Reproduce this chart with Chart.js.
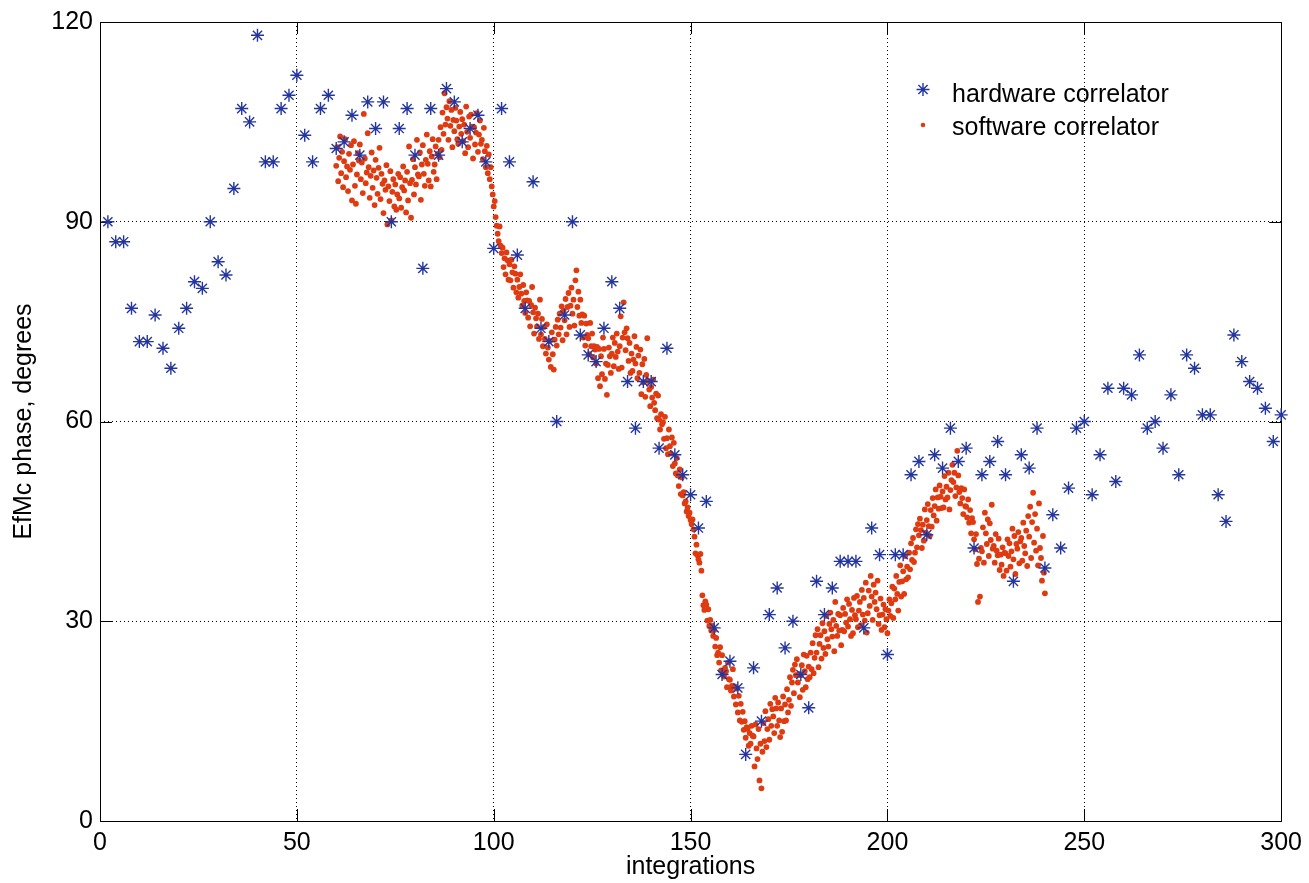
<!DOCTYPE html>
<html>
<head>
<meta charset="utf-8">
<script src="https://cdn.jsdelivr.net/npm/chart.js@4.4.1/dist/chart.umd.min.js"></script>
<style>
  html, body { margin: 0; padding: 0; background: #ffffff; }
  #wrap { width: 1309px; height: 883px; }
</style>
</head>
<body>
<div id="wrap"><canvas id="c" width="1309" height="883"></canvas></div>
<script>
// ---- data ----
const seriesNames = ['hardware correlator', 'software correlator'];
const xTicks = [0, 50, 100, 150, 200, 250, 300];
const yTicks = [0, 30, 60, 90, 120];

// hardware correlator: one sample every 2 integrations, starting at integration 2
const hwStart = 2, hwStep = 2;
const hwPhase = [
  90, 87, 87, 77, 72, 72, 76, 71, 68, 74,
  77, 81, 80, 90, 84, 82, 95, 107, 105, 118,
  99, 99, 107, 109, 112, 103, 99, 107, 109, 101,
  102, 106, 100, 108, 104, 108, 90, 104, 107, 100,
  83, 107, 100, 110, 108, 102, 104, 106, 99, 86,
  107, 99, 85, 77, 96, 74, 72, 60, 76, 90,
  73, 70, 69, 74, 81, 77, 66, 59, 66, 66,
  56, 71, 55, 52, 49, 44, 48, 29, 22, 24,
  20, 10, 23, 15, 31, 35, 26, 30, 22, 17,
  36, 31, 35, 39, 39, 39, 29, 44, 40, 25,
  40, 40, 52, 54, 43, 55, 53, 59, 54, 56,
  41, 52, 54, 57, 52, 36, 55, 53, 59, 38,
  46, 41, 50, 59, 60, 49, 55, 65, 51, 65,
  64, 70, 59, 60, 56, 64, 52, 70, 68, 61,
  61, 49, 45, 73, 69, 66, 65, 62, 57, 61
];

// software correlator: four samples per integration, from integration 60 to 240
const swStart = 60, swStep = 0.25;
const swPhase = [
  98.4,101.2,96.1,99.6,  102.8,97.3,100.5,95.2,  99.1,102.4,96.7,98.3,  94.6,100.2,97.8,101.5,  93.2,98.6,102.1,95.4,
  92.7,97.1,100.3,99.2,  101.6,96.4,98.9,94.3,  106.2,99.5,95.8,97.4,  103.3,98.2,93.6,96.9,  100.4,95.1,97.7,92.5,
  99.3,96.6,94.2,98.1,  101.1,93.4,97.2,95.7,  91.3,96.2,94.8,98.5,  89.6,95.3,93.1,97.6,  90.2,94.5,96.4,92.3,
  95.6,91.8,94.1,97.2,  93.5,96.7,92.1,95.2,  98.3,94.7,96.2,91.4,  97.5,93.2,101.3,95.8,  90.6,96.3,99.4,94.1,
  98.2,95.6,102.3,97.1,  96.8,100.4,93.3,98.6,  101.5,97.2,95.4,99.3,  103.1,98.7,96.2,100.6,  95.3,99.8,102.4,97.5,
  98.6,101.3,96.4,100.2,  102.3,99.7,104.2,100.8,  106.4,103.2,109.3,104.6,  107.2,105.5,102.3,108.1,  104.4,106.8,101.2,105.3,
  103.6,107.1,105.2,102.4,  101.7,104.3,106.5,103.2,  105.4,102.1,104.6,100.3,  107.3,103.5,101.2,105.8,  102.6,106.1,104.3,99.5,
  104.2,101.6,103.4,106.3,  100.5,103.1,105.2,101.7,  102.3,99.4,104.1,100.6,  98.2,101.4,97.3,100.1,  96.4,98.2,95.3,94.1,
  92.3,93.1,90.7,89.4,  88.2,87.1,89.3,86.4,  85.3,86.1,83.2,84.5,  82.1,85.4,84.2,81.3,  83.6,81.2,84.3,82.4,
  80.1,83.3,82.2,79.4,  81.3,78.6,80.2,82.1,  79.2,77.4,80.5,78.1,  76.3,79.4,78.2,75.6,  78.1,74.3,77.5,80.2,
  76.4,73.2,77.1,75.5,  74.3,76.2,72.4,78.3,  73.1,75.4,71.3,74.2,  72.4,70.2,74.6,71.1,  69.3,72.1,68.2,73.4,
  70.1,67.8,72.3,74.2,  71.4,75.3,73.1,76.2,  74.1,77.3,72.2,76.6,  75.2,78.4,73.1,77.2,  79.3,74.2,77.4,80.1,
  76.2,78.3,74.4,81.2,  82.7,77.2,79.5,75.9,  78.3,74.8,76.1,72.6,  75.9,71.4,74.7,73.0,  72.5,70.1,74.8,71.3,
  73.2,69.6,71.3,70.8,  68.7,71.2,66.5,70.9,  65.3,69.8,67.1,72.6,  70.9,66.4,68.7,64.0,  68.5,71.1,69.8,67.3,
  70.2,72.6,68.3,71.8,  69.7,73.2,70.5,67.9,  71.3,75.8,68.1,72.6,  77.9,73.4,70.7,74.0,  72.5,69.1,71.8,67.3,
  70.2,67.6,69.3,72.8,  68.7,71.2,66.5,69.9,  67.3,70.8,64.1,68.6,  65.9,69.4,63.7,67.0,  72.5,66.1,64.8,62.3,
  65.2,63.6,66.3,62.8,  61.7,64.2,60.5,63.9,  60.3,58.8,61.1,59.6,  59.9,57.4,60.7,56.0,  57.5,55.1,58.8,56.3,
  55.2,57.6,53.3,56.8,  53.7,52.2,54.5,51.9,  50.3,52.8,49.1,51.6,  48.9,49.4,47.7,48.0,  46.5,47.1,45.8,46.3,
  45.2,44.6,45.3,43.8,  42.7,40.2,41.5,39.9,  39.3,38.8,40.1,37.6,  33.9,32.4,31.7,33.0,  32.5,30.1,31.8,29.3,
  30.2,28.6,29.3,27.8,  28.7,26.2,27.5,24.9,  25.3,23.8,26.1,22.6,  24.9,22.4,21.7,23.0,  22.5,20.1,23.8,21.3,
  21.2,19.6,20.3,22.8,  18.7,20.2,17.5,19.9,  16.3,18.8,15.1,17.6,  14.9,16.4,13.7,15.0,  12.5,14.1,13.8,11.3,
  13.2,11.6,14.3,12.8,  12.7,8.2,14.5,10.9,  9.3,13.8,6.1,11.6,  4.9,10.4,14.7,12.0,  16.5,11.1,13.8,15.3,
  12.2,17.6,14.3,16.8,  15.7,13.2,18.5,16.9,  14.3,17.8,15.1,12.6,  16.9,13.4,18.7,15.0,  17.5,15.1,19.8,16.3,
  18.2,21.6,17.3,20.8,  22.7,19.2,23.5,21.9,  24.3,20.8,22.1,18.6,  21.9,23.4,19.7,25.0,  22.5,20.1,24.8,21.3,
  23.2,21.6,25.3,22.8,  26.7,22.2,24.5,27.9,  25.3,28.8,23.1,26.6,  27.9,24.4,29.7,26.0,  28.5,25.1,30.8,27.3,
  26.2,29.6,31.3,28.8,  27.7,30.2,25.5,32.9,  29.3,27.8,31.1,28.6,  30.9,26.4,28.7,32.0,  28.5,31.1,29.8,33.3,
  29.2,32.6,30.3,27.8,  31.7,28.2,33.5,30.9,  30.3,33.8,29.1,31.6,  32.9,29.4,34.7,31.0,  33.5,30.1,35.8,28.3,
  31.2,34.6,32.3,36.8,  33.7,30.2,35.5,32.9,  34.3,31.8,36.1,29.6,  30.9,33.4,28.7,31.0,  32.5,29.1,31.8,30.3,
  28.2,31.6,33.3,30.8,  32.7,35.2,30.5,34.9,  33.3,36.8,34.1,31.6,  35.9,38.4,33.7,36.0,  37.5,34.1,39.8,36.3,
  38.2,36.6,40.3,37.8,  41.7,39.2,42.5,38.9,  40.3,43.8,41.1,44.6,  42.9,45.4,43.7,41.0,  44.5,42.1,46.8,43.3,
  45.2,47.6,44.3,42.8,  46.7,44.2,48.5,45.9,  47.3,49.8,45.1,48.6,  46.9,50.4,48.7,47.0,  49.5,47.1,51.8,48.3,
  50.2,48.6,52.3,46.8,  49.7,51.2,53.5,50.9,  52.3,48.8,50.1,55.6,  51.9,49.4,47.7,50.0,  48.5,46.1,49.8,47.3,
  47.2,45.6,48.3,44.8,  46.7,43.2,45.5,44.9,  42.3,40.8,43.1,38.6,  32.9,39.4,33.7,41.0,  40.5,44.1,38.8,46.3,
  43.2,41.6,45.3,39.8,  44.7,42.2,47.5,40.9,  41.3,38.8,43.1,40.6,  39.9,42.4,37.7,40.0,  38.5,41.1,36.8,40.3,
  40.2,37.6,42.3,39.8,  41.7,38.2,40.5,43.9,  39.3,42.8,37.1,41.6,  40.9,43.4,38.7,42.0,  42.5,39.1,44.8,41.3,
  40.2,43.6,38.3,45.8,  42.7,47.2,39.5,44.9,  49.3,41.8,46.1,40.6,  43.9,38.4,47.7,41.0,  39.5,36.1,42.8,37.3,
  34.2
];

const hwPoints = hwPhase.map((v, i) => ({ x: hwStart + i * hwStep, y: v }));
const swPoints = swPhase.map((v, i) => ({ x: swStart + i * swStep, y: v }));

const FONT = "'Liberation Sans', Arial, Helvetica, sans-serif";
const BLUE = '#24369e';
const RED = '#df3a10';

// frame + inward tick marks (MATLAB style box)
const framePlugin = {
  id: 'frame',
  beforeDatasetsDraw(chart) {
    const { ctx, chartArea: a, scales: { x, y } } = chart;
    ctx.save();
    ctx.setLineDash([]);
    ctx.strokeStyle = '#000';
    ctx.lineWidth = 1;
    const L = 12;
    ctx.beginPath();
    xTicks.forEach(t => {
      const px = Math.round(x.getPixelForValue(t)) + 0.5;
      ctx.moveTo(px, a.bottom); ctx.lineTo(px, a.bottom - L);
      ctx.moveTo(px, a.top); ctx.lineTo(px, a.top + L);
    });
    yTicks.forEach(t => {
      const py = Math.round(y.getPixelForValue(t)) + 0.5;
      ctx.moveTo(a.left, py); ctx.lineTo(a.left + L, py);
      ctx.moveTo(a.right, py); ctx.lineTo(a.right - L, py);
    });
    ctx.stroke();
    ctx.strokeRect(Math.round(a.left) + 0.5, Math.round(a.top) + 0.5,
                   Math.round(a.right - a.left), Math.round(a.bottom - a.top));
    ctx.restore();
  }
};

// legend drawn inside plot, top-right, no box
const legendPlugin = {
  id: 'insideLegend',
  afterDraw(chart) {
    const { ctx } = chart;
    ctx.save();
    ctx.font = '25px ' + FONT;
    ctx.fillStyle = '#000';
    ctx.textBaseline = 'alphabetic';
    ctx.textAlign = 'left';
    ctx.fillText(seriesNames[0], 952, 102);
    ctx.fillText(seriesNames[1], 952, 135);
    ctx.restore();
    const mx = 923;
    ctx.save();
    ctx.strokeStyle = BLUE; ctx.fillStyle = BLUE; ctx.lineWidth = 1.4;
    Chart.helpers.drawPoint(ctx, { pointStyle: 'star', radius: 6.5, borderWidth: 1.4 }, mx, 89.5);
    ctx.restore();
    ctx.save();
    ctx.fillStyle = RED; ctx.strokeStyle = RED; ctx.lineWidth = 0;
    Chart.helpers.drawPoint(ctx, { pointStyle: 'circle', radius: 2.3, borderWidth: 0 }, mx, 125);
    ctx.restore();
  }
};

new Chart(document.getElementById('c'), {
  type: 'scatter',
  data: {
    datasets: [
      {
        label: seriesNames[0],
        data: hwPoints,
        pointStyle: 'star',
        pointRadius: 6.5,
        pointBorderWidth: 1.4,
        borderColor: BLUE,
        backgroundColor: BLUE,
        pointBorderColor: BLUE,
        clip: false
      },
      {
        label: seriesNames[1],
        data: swPoints,
        pointStyle: 'circle',
        pointRadius: 2.9,
        pointBorderWidth: 0,
        borderColor: RED,
        backgroundColor: RED,
        pointBackgroundColor: RED,
        clip: false
      }
    ]
  },
  options: {
    responsive: false,
    animation: false,
    events: [],
    layout: { padding: { left: 0, right: 26, top: 19, bottom: 0 } },
    plugins: {
      legend: { display: false },
      tooltip: { enabled: false },
      title: { display: false }
    },
    scales: {
      x: {
        type: 'linear',
        min: 0, max: 300,
        afterFit(s) { s.height = 62; },
        afterBuildTicks(s) { s.ticks = xTicks.map(v => ({ value: v })); },
        ticks: { color: '#000', font: { family: FONT, size: 25 }, padding: 7, maxRotation: 0 },
        grid: { color: '#000', lineWidth: 1, drawTicks: false },
        border: { display: false, dash: [1, 3] },
        title: { display: true, text: 'integrations', color: '#000', font: { family: FONT, size: 25 }, padding: { top: 0, bottom: 1 } }
      },
      y: {
        type: 'linear',
        min: 0, max: 120,
        afterFit(s) { s.width = 100; },
        afterBuildTicks(s) { s.ticks = yTicks.map(v => ({ value: v })); },
        ticks: { color: '#000', font: { family: FONT, size: 25 }, padding: 7 },
        grid: { color: '#000', lineWidth: 1, drawTicks: false },
        border: { display: false, dash: [1, 3] },
        title: { display: true, text: 'EfMc phase, degrees', color: '#000', font: { family: FONT, size: 25 }, padding: { top: 9, bottom: 0 } }
      }
    }
  },
  plugins: [framePlugin, legendPlugin]
});
</script>
</body>
</html>
